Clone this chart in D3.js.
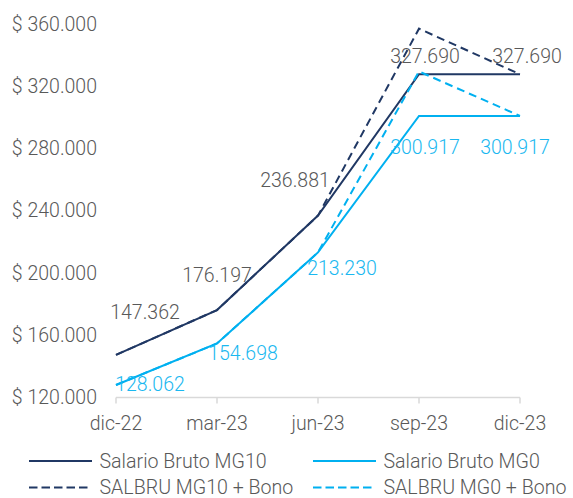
<!DOCTYPE html>
<html>
<head>
<meta charset="utf-8">
<script src="https://cdn.jsdelivr.net/npm/d3@7"></script>
<style>
  body { margin: 0; background: #fff; }
  svg { font-family: Roboto, "Noto Sans", sans-serif; font-weight: 300; }
</style>
</head>
<body>
<svg id="chart" width="573" height="498"></svg>
<script>
const categories = ["dic-22", "mar-23", "jun-23", "sep-23", "dic-23"];
const salarioMG10 = [147362, 176197, 236881, 327690, 327690];
const salarioMG0 = [128062, 154698, 213230, 300917, 300917];
const bonoMG10 = [147362, 176197, 236881, 357000, 327690];
const bonoMG0 = [128062, 154698, 213230, 329500, 300917];
const yTicks = [120000, 160000, 200000, 240000, 280000, 320000, 360000];

// label offsets from each point (centre of text)
const offsMG10 = [[29, -42], [0, -35], [-23, -35], [6, -18], [7, -18]];
const offsMG0 = [[34, 0], [26, 10], [24, 16], [6, 32], [-5, 32]];

const dark = "#203864";
const light = "#00b0f0";
const grey = "#595959";

const locale = d3.formatLocale({ decimal: ",", thousands: ".", grouping: [3], currency: ["$ ", ""] });
const fmt = locale.format(",d");

const svg = d3.select("#chart");

const x = d3.scalePoint().domain(categories).range([116, 520]);
const y = d3.scaleLinear().domain([120000, 360000]).range([397.5, 24]);

// x axis
const xAxis = svg.append("g").attr("transform", "translate(0,397.5)");
xAxis.append("line")
  .attr("x1", x(categories[0])).attr("x2", x(categories[categories.length - 1]))
  .attr("stroke", "#d9d9d9").attr("stroke-width", 1.5);
xAxis.selectAll("line.tick").data(categories).enter().append("line")
  .attr("class", "tick")
  .attr("x1", (d) => x(d)).attr("x2", (d) => x(d))
  .attr("y1", 0).attr("y2", 6)
  .attr("stroke", "#d9d9d9").attr("stroke-width", 1.5);
xAxis.selectAll("text").data(categories).enter().append("text")
  .attr("x", (d) => x(d)).attr("y", 26)
  .attr("text-anchor", "middle").attr("dominant-baseline", "central")
  .attr("fill", grey).style("font-size", "19.5px")
  .text((d) => d);

// y axis labels
svg.append("g").selectAll("text").data(yTicks).enter().append("text")
  .attr("x", 97).attr("y", (d) => y(d))
  .attr("text-anchor", "end").attr("dominant-baseline", "central")
  .attr("fill", grey).style("font-size", "19.5px")
  .text((d) => "$ " + fmt(d));

const line = d3.line().x((d, i) => x(categories[i])).y((d) => y(d));

const series = [
  { values: salarioMG10, color: dark, dash: null },
  { values: salarioMG0, color: light, dash: null },
  { values: bonoMG10, color: dark, dash: "8,5" },
  { values: bonoMG0, color: light, dash: "8,5" }
];

svg.append("g").selectAll("path").data(series).enter().append("path")
  .attr("d", (s) => line(s.values))
  .attr("fill", "none")
  .attr("stroke", (s) => s.color)
  .attr("stroke-width", 2)
  .attr("stroke-dasharray", (s) => s.dash);

// data labels
const addLabels = (values, offs, color) => {
  svg.append("g").selectAll("text").data(values).enter().append("text")
    .attr("x", (d, i) => x(categories[i]) + offs[i][0])
    .attr("y", (d, i) => y(d) + offs[i][1])
    .attr("text-anchor", "middle").attr("dominant-baseline", "central")
    .attr("fill", color).style("font-size", "19.5px")
    .text((d) => fmt(d));
};
addLabels(salarioMG10, offsMG10, grey);
addLabels(salarioMG0, offsMG0, "#1ab8f0");

// legend
const legend = [
  { name: "Salario Bruto MG10", color: dark, dash: null, x: 29, y: 461 },
  { name: "Salario Bruto MG0", color: light, dash: null, x: 313, y: 461 },
  { name: "SALBRU MG10 + Bono", color: dark, dash: "8.5,4", x: 29, y: 487.5 },
  { name: "SALBRU MG0 + Bono", color: light, dash: "8.5,4", x: 313, y: 487.5 }
];
const lg = svg.append("g").selectAll("g").data(legend).enter().append("g")
  .attr("transform", (d) => `translate(${d.x},${d.y})`);
lg.append("line")
  .attr("x1", 0).attr("x2", (d) => (d.dash ? 59 : 63))
  .attr("stroke", (d) => d.color).attr("stroke-width", 2)
  .attr("stroke-dasharray", (d) => d.dash);
lg.append("text")
  .attr("x", 70.5).attr("dominant-baseline", "central")
  .attr("fill", grey).style("font-size", "19.6px")
  .text((d) => d.name);
</script>
</body>
</html>
